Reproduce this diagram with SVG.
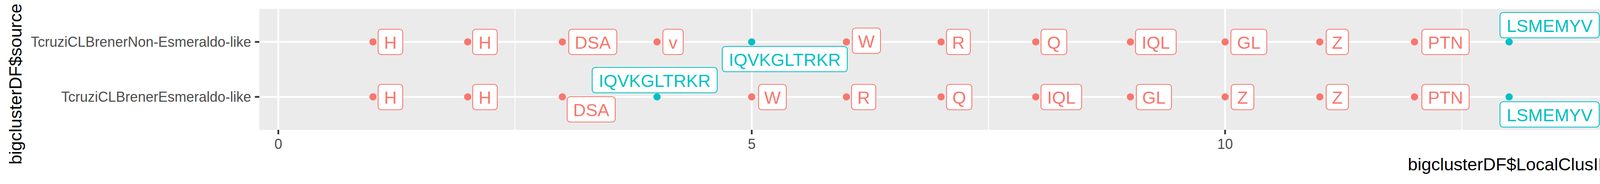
<svg xmlns="http://www.w3.org/2000/svg" width="7086" height="472" viewBox="0 0 7086 472">
<style>
text{font-family:"Liberation Sans",Arial,Helvetica,sans-serif}
.bg{fill:#EBEBEB}
.gmaj{stroke:#FFFFFF;stroke-width:4.4;fill:none}
.gmin{stroke:#FFFFFF;stroke-width:2.2;fill:none}
.tick{stroke:#333333;stroke-width:4.4;fill:none}
.axt{font-size:36px;fill:#4D4D4D}
.ttl{font-size:45px;fill:#000000}
.r rect{fill:#FFFFFF;stroke:#F8766D;stroke-width:2.2}
.r text{fill:#F8766D}
.r circle{fill:#F8766D}
.t rect{fill:#FFFFFF;stroke:#00BFC4;stroke-width:2.2}
.t text{fill:#00BFC4}
.t circle{fill:#00BFC4}
.n text{font-size:45px;text-anchor:middle}
</style>
<rect x="0" y="0" width="7086" height="472" fill="#FFFFFF"/>
<g id="panel">
<rect class="bg" x="664" y="23" width="6399" height="310"/>
<g class="gmin">
<line x1="1318.5" y1="23" x2="1318.5" y2="333"/>
<line x1="2530.4" y1="23" x2="2530.4" y2="333"/>
<line x1="3742.3" y1="23" x2="3742.3" y2="333"/>
<line x1="4954.2" y1="23" x2="4954.2" y2="333"/>
<line x1="6166.1" y1="23" x2="6166.1" y2="333"/>
</g>
<g class="gmaj">
<line x1="664" y1="107.5" x2="7063" y2="107.5"/>
<line x1="664" y1="248.5" x2="7063" y2="248.5"/>
<line x1="712.5" y1="23" x2="712.5" y2="333"/>
<line x1="1924.4" y1="23" x2="1924.4" y2="333"/>
<line x1="3136.3" y1="23" x2="3136.3" y2="333"/>
<line x1="4348.2" y1="23" x2="4348.2" y2="333"/>
<line x1="5560.1" y1="23" x2="5560.1" y2="333"/>
<line x1="6772" y1="23" x2="6772" y2="333"/>
</g>
</g>
<g id="axes">
<g class="tick">
<line x1="652.5" y1="107.5" x2="664" y2="107.5"/>
<line x1="652.5" y1="248.5" x2="664" y2="248.5"/>
<line x1="712.5" y1="333" x2="712.5" y2="344.5"/>
<line x1="1924.4" y1="333" x2="1924.4" y2="344.5"/>
<line x1="3136.3" y1="333" x2="3136.3" y2="344.5"/>
<line x1="4348.2" y1="333" x2="4348.2" y2="344.5"/>
<line x1="5560.1" y1="333" x2="5560.1" y2="344.5"/>
<line x1="6772" y1="333" x2="6772" y2="344.5"/>
</g>
<text class="axt" x="643" y="120.3" text-anchor="end">TcruziCLBrenerNon-Esmeraldo-like</text>
<text class="axt" x="643" y="261.3" text-anchor="end">TcruziCLBrenerEsmeraldo-like</text>
<g text-anchor="middle">
<text class="axt" x="712.5" y="382">0</text>
<text class="axt" x="1924.4" y="382">5</text>
<text class="axt" x="3136.3" y="382">10</text>
<text class="axt" x="4348.2" y="382">15</text>
<text class="axt" x="5560.1" y="382">20</text>
<text class="axt" x="6772" y="382">25</text>
</g>
<text class="ttl" x="3864" y="437" text-anchor="middle">bigclusterDF$LocalClusID</text>
<text class="ttl" transform="translate(55,422) rotate(-90)" x="0" y="0" text-anchor="start">bigclusterDF$source</text>
</g>
<g id="connectors"></g>
<g id="nodes" class="n">
<!-- Row 1: TcruziCLBrenerNon-Esmeraldo-like -->
<g id="n1-01" class="r"><circle cx="954.9" cy="107.5" r="9.3"/><rect x="968" y="75" width="63" height="65" rx="8"/><text x="999.5" y="124.5">H</text></g>
<g id="n1-02" class="r"><circle cx="1197.3" cy="107.5" r="9.3"/><rect x="1210" y="75" width="63" height="65" rx="8"/><text x="1241.5" y="124.5">H</text></g>
<g id="n1-03" class="r"><circle cx="1439.6" cy="107.5" r="9.3"/><rect x="1456" y="75" width="123" height="65" rx="8"/><text x="1517.5" y="124.5">DSA</text></g>
<g id="n1-04" class="r"><circle cx="1682" cy="107.5" r="9.3"/><rect x="1697" y="75" width="52" height="65" rx="8"/><text x="1723" y="124.5">v</text></g>
<g id="n1-05" class="t"><circle cx="1924.4" cy="107.5" r="9.3"/><rect x="1849" y="119" width="320" height="65" rx="8"/><text x="2009" y="168.5">IQVKGLTRKR</text></g>
<g id="n1-06" class="r"><circle cx="2166.8" cy="107.5" r="9.3"/><rect x="2182" y="72" width="72" height="65" rx="8"/><text x="2218" y="121.5">W</text></g>
<g id="n1-07" class="r"><circle cx="2409.2" cy="107.5" r="9.3"/><rect x="2423" y="75" width="61" height="65" rx="8"/><text x="2453.5" y="124.5">R</text></g>
<g id="n1-08" class="r"><circle cx="2651.5" cy="107.5" r="9.3"/><rect x="2665" y="75" width="66" height="65" rx="8"/><text x="2698" y="124.5">Q</text></g>
<g id="n1-09" class="r"><circle cx="2893.9" cy="107.5" r="9.3"/><rect x="2907" y="75" width="104" height="65" rx="8"/><text x="2959" y="124.5">IQL</text></g>
<g id="n1-10" class="r"><circle cx="3136.3" cy="107.5" r="9.3"/><rect x="3151" y="75" width="92" height="65" rx="8"/><text x="3197" y="124.5">GL</text></g>
<g id="n1-11" class="r"><circle cx="3378.7" cy="107.5" r="9.3"/><rect x="3395" y="75" width="57" height="65" rx="8"/><text x="3423.5" y="124.5">Z</text></g>
<g id="n1-12" class="r"><circle cx="3621.1" cy="107.5" r="9.3"/><rect x="3640" y="75" width="121" height="65" rx="8"/><text x="3700.5" y="124.5">PTN</text></g>
<g id="n1-13" class="t"><circle cx="3863.4" cy="107.5" r="9.3"/><rect x="3840" y="32" width="254" height="65" rx="8"/><text x="3967" y="81.5">LSMEMYV</text></g>
<g id="n1-14" class="r"><circle cx="4105.8" cy="107.5" r="9.3"/><rect x="4119" y="75" width="60" height="65" rx="8"/><text x="4149" y="124.5">S</text></g>
<g id="n1-15" class="r"><circle cx="4348.2" cy="107.5" r="9.3"/><rect x="4363" y="75" width="115" height="65" rx="8"/><text x="4420.5" y="124.5">PXL</text></g>
<g id="n1-16" class="t"><circle cx="4590.6" cy="107.5" r="9.3"/><rect x="4605" y="75" width="190" height="65" rx="8"/><text x="4700" y="124.5">NARKR</text></g>
<g id="n1-17" class="r"><circle cx="4833" cy="107.5" r="9.3"/><rect x="4846" y="75" width="63" height="65" rx="8"/><text x="4877.5" y="124.5">C</text></g>
<g id="n1-18" class="r"><circle cx="5075.3" cy="107.5" r="9.3"/><rect x="5091" y="75" width="42" height="65" rx="8"/><text x="5112" y="124.5">I</text></g>
<g id="n1-19" class="r"><circle cx="5317.7" cy="107.5" r="9.3"/><rect x="5339" y="75" width="119" height="65" rx="8"/><text x="5398.5" y="124.5">VEF</text></g>
<g id="n1-20" class="r"><circle cx="5560.1" cy="107.5" r="9.3"/><rect x="5579" y="75" width="121" height="65" rx="8"/><text x="5639.5" y="124.5">FRA</text></g>
<g id="n1-21" class="r"><circle cx="5802.5" cy="107.5" r="9.3"/><rect x="5818" y="75" width="90" height="65" rx="8"/><text x="5863" y="124.5">GT</text></g>
<g id="n1-22" class="r"><circle cx="6044.9" cy="107.5" r="9.3"/><rect x="6059" y="75" width="65" height="65" rx="8"/><text x="6091.5" y="124.5">G</text></g>
<g id="n1-23" class="r"><circle cx="6287.2" cy="107.5" r="9.3"/><rect x="6303" y="75" width="61" height="65" rx="8"/><text x="6333.5" y="124.5">P</text></g>
<g id="n1-24" class="r"><circle cx="6529.6" cy="107.5" r="9.3"/><rect x="6547" y="75" width="59" height="65" rx="8"/><text x="6576.5" y="124.5">E</text></g>
<!-- Row 2: TcruziCLBrenerEsmeraldo-like -->
<g id="n2-01" class="r"><circle cx="954.9" cy="248.5" r="9.3"/><rect x="968" y="216.5" width="63" height="65" rx="8"/><text x="999.5" y="266">H</text></g>
<g id="n2-02" class="r"><circle cx="1197.3" cy="248.5" r="9.3"/><rect x="1210" y="216.5" width="63" height="65" rx="8"/><text x="1241.5" y="266">H</text></g>
<g id="n2-03" class="r"><circle cx="1439.6" cy="248.5" r="9.3"/><rect x="1452" y="248" width="123" height="65" rx="8"/><text x="1513.5" y="297.5">DSA</text></g>
<g id="n2-04" class="t"><circle cx="1682" cy="248.5" r="9.3"/><rect x="1516" y="173" width="320" height="65" rx="8"/><text x="1676" y="222.5">IQVKGLTRKR</text></g>
<g id="n2-05" class="r"><circle cx="1924.4" cy="248.5" r="9.3"/><rect x="1942" y="216.5" width="71" height="65" rx="8"/><text x="1977.5" y="266">W</text></g>
<g id="n2-06" class="r"><circle cx="2166.8" cy="248.5" r="9.3"/><rect x="2180" y="216.5" width="62" height="65" rx="8"/><text x="2211" y="266">R</text></g>
<g id="n2-07" class="r"><circle cx="2409.2" cy="248.5" r="9.3"/><rect x="2423" y="216.5" width="65" height="65" rx="8"/><text x="2455.5" y="266">Q</text></g>
<g id="n2-08" class="r"><circle cx="2651.5" cy="248.5" r="9.3"/><rect x="2665" y="216.5" width="104" height="65" rx="8"/><text x="2717" y="266">IQL</text></g>
<g id="n2-09" class="r"><circle cx="2893.9" cy="248.5" r="9.3"/><rect x="2909" y="216.5" width="90" height="65" rx="8"/><text x="2954" y="266">GL</text></g>
<g id="n2-10" class="r"><circle cx="3136.3" cy="248.5" r="9.3"/><rect x="3152" y="216.5" width="58" height="65" rx="8"/><text x="3181" y="266">Z</text></g>
<g id="n2-11" class="r"><circle cx="3378.7" cy="248.5" r="9.3"/><rect x="3395" y="216.5" width="57" height="65" rx="8"/><text x="3423.5" y="266">Z</text></g>
<g id="n2-12" class="r"><circle cx="3621.1" cy="248.5" r="9.3"/><rect x="3640" y="216.5" width="121" height="65" rx="8"/><text x="3700.5" y="266">PTN</text></g>
<g id="n2-13" class="t"><circle cx="3863.4" cy="248.5" r="9.3"/><rect x="3840" y="261" width="254" height="65" rx="8"/><text x="3967" y="310.5">LSMEMYV</text></g>
<g id="n2-14" class="r"><circle cx="4105.8" cy="248.5" r="9.3"/><rect x="4119" y="216.5" width="60" height="65" rx="8"/><text x="4149" y="266">S</text></g>
<g id="n2-15" class="r"><circle cx="4348.2" cy="248.5" r="9.3"/><rect x="4364" y="216.5" width="84" height="65" rx="8"/><text x="4406" y="266">LS</text></g>
<g id="n2-16" class="r"><circle cx="4590.6" cy="248.5" r="9.3"/><rect x="4605" y="216.5" width="117" height="65" rx="8"/><text x="4663.5" y="266">PXL</text></g>
<g id="n2-17" class="t"><circle cx="4833" cy="248.5" r="9.3"/><rect x="4847" y="216.5" width="190" height="65" rx="8"/><text x="4942" y="266">NARKR</text></g>
<g id="n2-18" class="r"><circle cx="5075.3" cy="248.5" r="9.3"/><rect x="5089" y="216.5" width="61" height="65" rx="8"/><text x="5119.5" y="266">C</text></g>
<g id="n2-19" class="r"><circle cx="5317.7" cy="248.5" r="9.3"/><rect x="5333" y="216.5" width="41" height="65" rx="8"/><text x="5353.5" y="266">I</text></g>
<g id="n2-20" class="r"><circle cx="5560.1" cy="248.5" r="9.3"/><rect x="5577" y="216.5" width="55" height="65" rx="8"/><text x="5604.5" y="266">F</text></g>
<g id="n2-21" class="r"><circle cx="5802.5" cy="248.5" r="9.3"/><rect x="5821" y="216.5" width="121" height="65" rx="8"/><text x="5881.5" y="266">FRA</text></g>
<g id="n2-22" class="r"><circle cx="6044.9" cy="248.5" r="9.3"/><rect x="6060" y="216.5" width="90" height="65" rx="8"/><text x="6105" y="266">GT</text></g>
<g id="n2-23" class="r"><circle cx="6287.2" cy="248.5" r="9.3"/><rect x="6301" y="216.5" width="65" height="65" rx="8"/><text x="6333.5" y="266">G</text></g>
<g id="n2-24" class="r"><circle cx="6529.6" cy="248.5" r="9.3"/><rect x="6547" y="216.5" width="59" height="65" rx="8"/><text x="6576.5" y="266">P</text></g>
<g id="n2-25" class="r"><circle cx="6772" cy="248.5" r="9.3"/><rect x="6789" y="216.5" width="59" height="65" rx="8"/><text x="6818.5" y="266">E</text></g>
</g>
</svg>
